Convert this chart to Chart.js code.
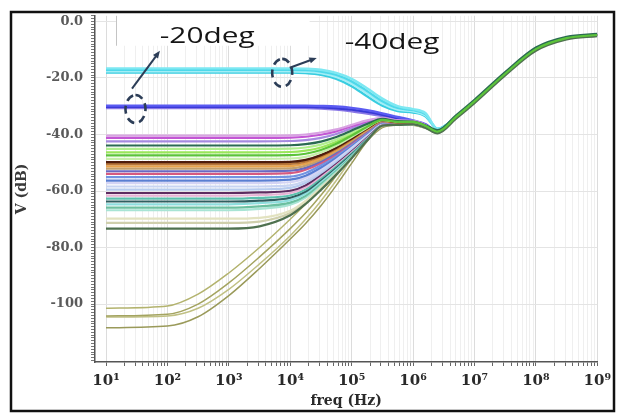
<!DOCTYPE html>
<html>
<head>
<meta charset="utf-8">
<script src="https://cdn.jsdelivr.net/npm/chart.js@4.4.1/dist/chart.umd.min.js"></script>
<style>
html, body { margin: 0; padding: 0; background: #fff; }
#wrap { width: 617px; height: 417px; }
</style>
</head>
<body>
<div id="wrap"><canvas id="myChart" width="617" height="417"></canvas></div>
<script>
// frequency points shared by every curve (Hz)
const freqs = [10, 100, 316, 1000, 3162, 10000, 17783, 31623, 56234, 100000, 177828, 316228, 562341,
    1000000, 1584893, 2511886, 5011872, 10000000, 31622777, 100000000, 316227766, 1000000000];

// common high frequency part, 2.5 MHz .. 1 GHz
const tailMid = [-39.0, -33.8, -28.3, -18.5, -9.8, -5.9, -4.8];
const tailUpper = [-38.4, -33.2, -27.7, -17.9, -9.2, -5.4, -4.4];
const tailLower = [-39.6, -34.4, -28.9, -19.1, -10.4, -6.4, -5.2];
const tailCyan = [-38.0, -33.8, -28.3, -18.5, -9.8, -5.9, -4.8];

// low frequency part, 10 Hz .. 1.58 MHz (dB)
const cyanCurves = [
    [-16.6, -16.6, -16.6, -16.6, -16.6, -16.6, -16.7, -17.1, -18.2, -20.3, -23.6, -27.3, -30.0, -31.0, -32.4],
    [-17.1, -17.1, -17.1, -17.1, -17.1, -17.1, -17.2, -17.7, -18.9, -21.2, -24.6, -28.2, -30.6, -31.4, -32.8],
    [-17.6, -17.6, -17.6, -17.6, -17.6, -17.6, -17.8, -18.3, -19.6, -22.0, -25.5, -29.0, -31.2, -31.8, -33.2],
    [-18.1, -18.1, -18.1, -18.1, -18.1, -18.1, -18.3, -18.9, -20.3, -22.9, -26.5, -29.8, -31.7, -32.2, -33.5]
];
const cyanColors = ['#7de8f2', '#4fd8ea', '#a2eef6', '#38cde0'];

const blueCurves = [
    [-29.8, -29.8, -29.8, -29.8, -29.8, -29.8, -29.8, -29.9, -30.1, -30.6, -31.4, -32.5, -33.8, -35.0, -36.3],
    [-30.2, -30.2, -30.2, -30.2, -30.2, -30.2, -30.2, -30.4, -30.7, -31.2, -32.0, -33.0, -34.2, -35.3, -36.5],
    [-30.6, -30.6, -30.6, -30.6, -30.6, -30.6, -30.6, -30.8, -31.2, -31.8, -32.6, -33.5, -34.6, -35.6, -36.7]
];
const blueColors = ['#5b5bf2', '#3a3ad6', '#8a78e6'];

const mainCurves = [
    [-40.4, -40.4, -40.4, -40.4, -40.4, -40.3, -40.0, -39.3, -38.2, -36.6, -35.0, -34.2, -35.0, -35.2, -36.6],
    [-41.2, -41.2, -41.2, -41.2, -41.2, -41.1, -40.8, -40.1, -38.9, -37.1, -35.4, -34.3, -35.1, -35.3, -36.6],
    [-42.4, -42.4, -42.4, -42.4, -42.4, -42.3, -42.0, -41.2, -39.8, -37.8, -35.8, -34.4, -35.2, -35.3, -36.7],
    [-43.9, -43.9, -43.9, -43.9, -43.9, -43.8, -43.4, -42.5, -40.9, -38.6, -36.3, -34.5, -35.3, -35.4, -36.7],
    [-45.1, -45.1, -45.1, -45.1, -45.1, -45.0, -44.6, -43.6, -41.8, -39.3, -36.7, -34.6, -35.3, -35.4, -36.8],
    [-46.3, -46.3, -46.3, -46.3, -46.3, -46.2, -45.7, -44.6, -42.6, -39.9, -37.0, -34.7, -35.4, -35.5, -36.8],
    [-47.4, -47.4, -47.4, -47.4, -47.4, -47.3, -46.8, -45.5, -43.3, -40.4, -37.3, -34.8, -35.5, -35.5, -36.9],
    [-48.6, -48.6, -48.6, -48.6, -48.6, -48.5, -47.9, -46.4, -44.0, -40.9, -37.6, -34.9, -35.5, -35.6, -36.9],
    [-49.8, -49.8, -49.8, -49.8, -49.8, -49.7, -49.0, -47.3, -44.7, -41.4, -37.9, -35.0, -35.6, -35.6, -37.0],
    [-50.5, -50.5, -50.5, -50.5, -50.5, -50.4, -49.6, -47.8, -45.1, -41.7, -38.1, -35.1, -35.7, -35.7, -37.0],
    [-51.3, -51.3, -51.3, -51.3, -51.3, -51.2, -50.3, -48.4, -45.5, -42.0, -38.3, -35.2, -35.7, -35.7, -37.0],
    [-52.1, -52.1, -52.1, -52.1, -52.1, -52.0, -51.0, -48.9, -45.9, -42.3, -38.5, -35.3, -35.8, -35.8, -37.1],
    [-53.0, -53.0, -53.0, -53.0, -53.0, -52.8, -51.8, -49.5, -46.4, -42.7, -38.7, -35.4, -35.8, -35.8, -37.1],
    [-53.9, -53.9, -53.9, -53.9, -53.9, -53.7, -52.5, -50.1, -46.8, -43.0, -38.9, -35.5, -35.9, -35.9, -37.1],
    [-55.1, -55.1, -55.1, -55.1, -55.1, -54.9, -53.6, -50.9, -47.4, -43.4, -39.2, -35.6, -35.9, -35.9, -37.2],
    [-56.3, -56.3, -56.3, -56.3, -56.3, -56.0, -54.6, -51.7, -48.0, -43.8, -39.5, -35.7, -36.0, -35.9, -37.2],
    [-57.2, -57.2, -57.2, -57.2, -57.2, -56.9, -55.4, -52.3, -48.5, -44.2, -39.7, -35.8, -36.0, -36.0, -37.2],
    [-58.4, -58.4, -58.4, -58.4, -58.4, -58.0, -56.4, -53.0, -49.0, -44.6, -40.0, -35.9, -36.1, -36.0, -37.3],
    [-59.5, -59.5, -59.5, -59.5, -59.4, -58.9, -57.1, -53.6, -49.5, -45.0, -40.2, -36.0, -36.1, -36.0, -37.3],
    [-60.7, -60.7, -60.7, -60.7, -60.5, -59.9, -58.0, -54.2, -50.0, -45.4, -40.5, -36.1, -36.2, -36.1, -37.3],
    [-61.6, -61.6, -61.6, -61.6, -61.4, -60.7, -58.7, -54.8, -50.4, -45.7, -40.7, -36.2, -36.2, -36.1, -37.4],
    [-62.7, -62.7, -62.7, -62.7, -62.4, -61.6, -59.5, -55.4, -50.9, -46.1, -40.9, -36.3, -36.3, -36.1, -37.4],
    [-63.7, -63.7, -63.7, -63.7, -63.4, -62.4, -60.2, -56.0, -51.4, -46.4, -41.1, -36.4, -36.3, -36.2, -37.4],
    [-64.7, -64.7, -64.7, -64.7, -64.3, -63.2, -60.9, -56.6, -51.9, -46.8, -41.3, -36.4, -36.4, -36.2, -37.5],
    [-65.9, -65.9, -65.9, -65.9, -65.4, -64.1, -61.7, -57.2, -52.4, -47.2, -41.5, -36.5, -36.4, -36.2, -37.5],
    [-66.8, -66.8, -66.8, -66.8, -66.3, -64.8, -62.3, -57.7, -52.8, -47.4, -41.6, -36.6, -36.5, -36.3, -37.5],
    [-69.8, -69.8, -69.8, -69.8, -69.5, -67.0, -63.5, -58.5, -53.2, -47.6, -41.8, -36.7, -36.5, -36.3, -37.6],
    [-71.3, -71.3, -71.3, -71.3, -70.8, -67.8, -64.0, -59.0, -53.7, -48.0, -42.0, -36.8, -36.6, -36.4, -37.6],
    [-73.3, -73.3, -73.3, -73.3, -72.5, -68.6, -64.6, -59.6, -54.2, -48.4, -42.2, -36.9, -36.6, -36.4, -37.6]
];
const mainColors = ['#d8a2e2', '#c356d4', '#a68ae0', '#2b6b52', '#b0ee8e', '#9ae65a', '#5cc43a', '#c6eea8',
    '#4e1c0c', '#b8763a', '#e8a24c', '#c0a070', '#6a6ac2', '#d65a80', '#7294e2', '#5a7ed2', '#d4d4f4',
    '#c8d4f2', '#b6cbee', '#5e2c60', '#e8b2d4', '#5cc0ae', '#2f5f60', '#8edede', '#6cc0a0', '#a8e4d4',
    '#e2e2c0', '#cfcfac', '#4f714f'];

const oliveCurves = [
    [-101.5, -100.7, -96.5, -89.0, -80.0, -70.0, -64.6, -58.7, -52.0, -45.0, -39.2, -36.3, -36.2, -36.4, -37.5],
    [-104.2, -103.6, -100.0, -92.5, -83.3, -73.3, -67.8, -61.5, -54.5, -47.0, -40.5, -36.8, -36.3, -36.5, -37.6],
    [-104.6, -104.2, -101.5, -94.8, -85.8, -75.8, -70.0, -63.5, -56.3, -48.5, -41.5, -37.2, -36.5, -36.6, -37.7],
    [-108.4, -107.8, -104.5, -97.0, -87.4, -77.0, -71.5, -65.2, -58.0, -50.2, -42.5, -37.6, -36.6, -36.7, -37.8]
];
const oliveColors = ['#b3b36e', '#a4a460', '#c0c084', '#9a9a5a'];

// axis ticks
const decades = [10, 100, 1000, 10000, 100000, 1000000, 10000000, 100000000, 1000000000];
const decadeLabels = ['10\u00b9', '10\u00b2', '10\u00b3', '10\u2074', '10\u2075', '10\u2076', '10\u2077', '10\u2078', '10\u2079'];
const minorSteps = [2, 3, 4, 5, 6, 7, 8, 9];

// annotations (freq, dB)
const noteBox = [14.5, 20700, 2, -8.6];
const noteTexts = [['-20deg', 75, -7.6], ['-40deg', 76900, -9.7]];
const noteArrows = [[26.5, -23.8, 75.5, -10.4], [9820, -16.4, 27000, -12.9]];
const noteRings = [[30.2, -31.0], [7400, -18.2]];

function curve(head, tail, color, width, order) {
    const vals = head.concat(tail);
    return {
        data: freqs.map((f, i) => ({ x: f, y: vals[i] })),
        borderColor: color,
        borderWidth: width,
        pointRadius: 0,
        fill: false,
        cubicInterpolationMode: 'monotone',
        order: order
    };
}

const datasets = [];
mainCurves.forEach((c, i) => {
    let tail = tailMid, order = 2;
    if (i === 6) order = 0;
    if (i === 3) { tail = tailUpper; order = 1; }
    if (i === 28) { tail = tailLower; order = 1; }
    datasets.push(curve(c, tail, mainColors[i], 2.2, order));
});
blueCurves.forEach((c, i) => datasets.push(curve(c, tailMid, blueColors[i], 2.4, 2)));
cyanCurves.forEach((c, i) => datasets.push(curve(c, tailCyan, cyanColors[i], 2.4, 2)));
oliveCurves.forEach((c, i) => datasets.push(curve(c, tailMid, oliveColors[i], 1.5, 3)));

function isDecade(v) {
    const l = Math.log10(v);
    return Math.abs(l - Math.round(l)) < 1e-6;
}

const annotate = {
    id: 'annotate',
    afterDatasetsDraw(chart) {
        const { ctx, scales: { x, y } } = chart;
        ctx.save();
        // white text box
        const bx0 = x.getPixelForValue(noteBox[0]), bx1 = x.getPixelForValue(noteBox[1]);
        const by0 = y.getPixelForValue(noteBox[2]), by1 = y.getPixelForValue(noteBox[3]);
        ctx.fillStyle = '#fff';
        ctx.fillRect(bx0, by0, bx1 - bx0, by1 - by0);
        ctx.strokeStyle = '#c4c4c4';
        ctx.lineWidth = 1;
        ctx.beginPath();
        ctx.moveTo(Math.round(bx0) + 0.5, by0);
        ctx.lineTo(Math.round(bx0) + 0.5, by1);
        ctx.stroke();

        ctx.fillStyle = '#151515';
        ctx.font = '21px "Open Sans"';
        ctx.textBaseline = 'alphabetic';
        noteTexts.forEach(t => {
            ctx.save();
            ctx.translate(x.getPixelForValue(t[1]), y.getPixelForValue(t[2]));
            ctx.scale(1.42, 1);
            ctx.fillText(t[0], 0, 0);
            ctx.restore();
        });

        ctx.strokeStyle = '#2c3d57';
        ctx.fillStyle = '#2c3d57';
        ctx.lineWidth = 2;
        noteArrows.forEach(a => {
            const x0 = x.getPixelForValue(a[0]), y0 = y.getPixelForValue(a[1]);
            const x1 = x.getPixelForValue(a[2]), y1 = y.getPixelForValue(a[3]);
            const ang = Math.atan2(y1 - y0, x1 - x0);
            ctx.beginPath();
            ctx.moveTo(x0, y0);
            ctx.lineTo(x1 - 4 * Math.cos(ang), y1 - 4 * Math.sin(ang));
            ctx.stroke();
            ctx.beginPath();
            ctx.moveTo(x1, y1);
            ctx.lineTo(x1 - 8 * Math.cos(ang - 0.4), y1 - 8 * Math.sin(ang - 0.4));
            ctx.lineTo(x1 - 8 * Math.cos(ang + 0.4), y1 - 8 * Math.sin(ang + 0.4));
            ctx.closePath();
            ctx.fill();
        });

        ctx.lineWidth = 2.6;
        ctx.setLineDash([8, 5]);
        noteRings.forEach(r => {
            ctx.beginPath();
            ctx.ellipse(x.getPixelForValue(r[0]), y.getPixelForValue(r[1]), 10, 14, 0, -Math.PI / 2, Math.PI * 1.5);
            ctx.stroke();
        });
        ctx.restore();
    },
    afterDraw(chart) {
        const ctx = chart.ctx;
        ctx.save();
        ctx.strokeStyle = '#111';
        ctx.lineWidth = 2.5;
        ctx.strokeRect(11, 12, 603, 399);
        ctx.restore();
    }
};

const serif = '"DejaVu Serif", "Liberation Serif", serif';

new Chart(document.getElementById('myChart'), {
    type: 'line',
    data: { datasets: datasets },
    plugins: [annotate],
    options: {
        responsive: false,
        animation: false,
        events: [],
        layout: { padding: { left: 0, right: 19, top: 15, bottom: 0 } },
        plugins: { legend: { display: false }, tooltip: { enabled: false } },
        scales: {
            x: {
                type: 'logarithmic',
                min: 6.62,
                max: 1e9,
                afterBuildTicks: (scale) => {
                    const t = [];
                    decades.forEach(d => {
                        t.push({ value: d });
                        if (d < 1e9) minorSteps.forEach(m => t.push({ value: d * m }));
                    });
                    scale.ticks = t;
                },
                afterFit: (scale) => { scale.height = 55; },
                grid: {
                    color: (c) => (c.tick && isDecade(c.tick.value)) ? '#dcdcdc' : '#efefef',
                    tickColor: '#666',
                    tickLength: 4
                },
                border: { display: true, color: '#555', width: 1.5 },
                ticks: {
                    autoSkip: false,
                    maxRotation: 0,
                    padding: 6,
                    color: '#2a2a2a',
                    font: { family: serif, size: 15, weight: 'bold' },
                    callback: (v) => {
                        const i = decades.findIndex(d => Math.abs(d - v) < d * 1e-6);
                        return i >= 0 ? decadeLabels[i] : '';
                    }
                },
                title: {
                    display: true,
                    text: 'freq (Hz)',
                    color: '#2a2a2a',
                    font: { family: serif, size: 14, weight: 'bold' },
                    padding: { top: 0, bottom: 7 }
                }
            },
            y: {
                type: 'linear',
                min: -120.5,
                max: 2,
                afterFit: (scale) => { scale.width = 95; },
                grid: {
                    color: (c) => (c.tick && c.tick.value % 20 === 0 && c.tick.value > -110) ? '#e4e4e4' : 'rgba(0,0,0,0)',
                    tickColor: '#777',
                    tickLength: 4
                },
                border: { display: true, color: '#555', width: 1.5 },
                ticks: {
                    stepSize: 1,
                    autoSkip: false,
                    includeBounds: false,
                    padding: 8,
                    color: '#5a5a5a',
                    font: { family: serif, size: 13, weight: 'bold' },
                    callback: (v) => (v % 20 === 0 && v > -110) ? (v === -100 ? '-100' : v.toFixed(1)) : ''
                },
                title: {
                    display: true,
                    text: 'V (dB)',
                    color: '#3a3a3a',
                    font: { family: serif, size: 14, weight: 'bold' },
                    padding: { top: 14, bottom: 0 }
                }
            }
        }
    }
});
</script>
</body>
</html>
